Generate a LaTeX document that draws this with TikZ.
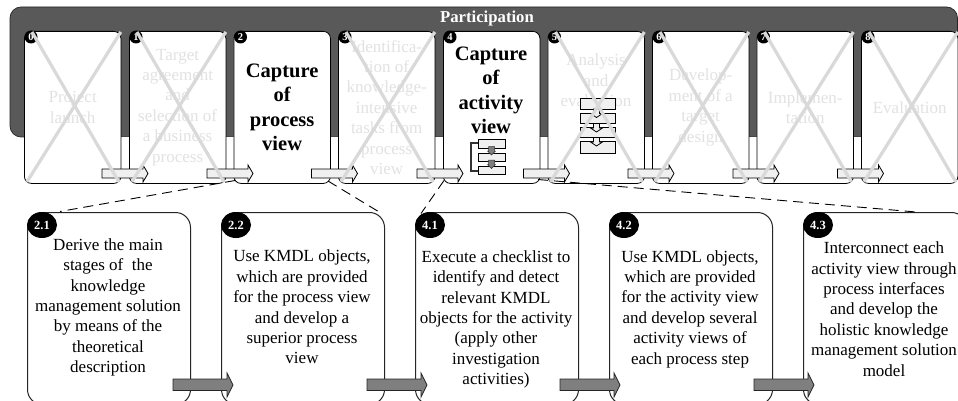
\documentclass[tikz,border=0pt]{standalone}
\usepackage{fontspec}
\setmainfont{Liberation Serif}
\usetikzlibrary{shapes.geometric}
\definecolor{band}{HTML}{595959}
\definecolor{ghost}{HTML}{E2E2E2}
\definecolor{crossc}{HTML}{D9D9D9}
\definecolor{lightf}{HTML}{F0F0F0}
\definecolor{midf}{HTML}{7F7F7F}
\tikzset{
  cardbox/.style={draw=black,line width=0.8pt,fill=white,rounded corners=7pt,minimum width=96.5pt,minimum height=152pt,inner sep=0pt,anchor=north west,align=center},
  ghosttext/.style={text=ghost,font=\fontsize{17}{20.4}\selectfont},
  boldtext/.style={text=black,font=\fontsize{20.5}{24.5}\selectfont\bfseries},
  numdot/.style={circle,fill=black,minimum size=13pt,inner sep=0pt,text=white,font=\fontsize{10.5}{11}\selectfont\bfseries},
  smallarrow/.style={draw=black,line width=0.8pt,fill=lightf},
  bigarrow/.style={draw=black!85,line width=0.8pt,fill=midf},
  crossline/.style={draw=crossc,line width=3.2pt},
  stepcard/.style={draw=black!85,line width=1pt,fill=white,rounded corners=15pt,minimum width=163pt,minimum height=192pt,inner sep=0pt,anchor=north west},
  stepbody/.style={align=center,text=black,font=\fontsize{17}{20.4}\selectfont},
  stepdot/.style={ellipse,fill=black,minimum width=30pt,minimum height=26pt,inner sep=0pt,text=white,font=\fontsize{12.5}{13}\selectfont\bfseries},
  linkline/.style={draw=black,line width=0.9pt,dash pattern=on 10pt off 6pt},
  iconbox/.style={draw=black,line width=0.9pt,fill=lightf,inner sep=0pt,anchor=north west},
  darkdown/.style={draw=black!80,fill=midf,line width=0.5pt},
  palearrow/.style={draw=black,fill=lightf,line width=0.8pt},
}
\newcommand{\downarrowshape}[5]{% style, cx, top, half body, half head
  \draw[#1] ({#2-#4},#3) -- ({#2+#4},#3) -- ({#2+#4},{#3+4.5}) -- ({#2+#5},{#3+4.5}) -- (#2,{#3+8.5}) -- ({#2-#5},{#3+4.5}) -- ({#2-#4},{#3+4.5}) -- cycle;}
\begin{document}
\begin{tikzpicture}[x=1pt,y=-1pt]
\clip (0,0) rectangle (958,401);
\fill[white] (0,0) rectangle (958,401);
% participation band
\draw[fill=band,draw=black!85,line width=0.7pt,rounded corners=11pt] (10,137) -- (10,7) -- (957.5,7) -- (957.5,137) -- cycle;
\fill[white] (24,137) rectangle (958,184);
\node[text=white,font=\fontsize{16.7}{18}\selectfont\bfseries] (part) at (487,18.5) {Participation};
% cards
\node[cardbox,ghosttext] (c0) at (24,31) {Project\\launch};
\node[cardbox,ghosttext] (c1) at (129,31) {Target\\agreement\\and\\selection of\\a business\\process};
\node[cardbox,boldtext] (c2) at (233.5,31) {Capture\\of\\process\\view};
\node[cardbox,ghosttext] (c3) at (338,31) {Identifica-\\tion of\\knowledge-\\intensive\\tasks from\\process\\view};
\node[cardbox] (c4) at (443,31) {};
\node[cardbox] (c5) at (547.5,31) {};
\node[cardbox,ghosttext] (c6) at (652,31) {Develop-\\ment of a\\target\\design};
\node[cardbox,ghosttext] (c7) at (756.5,31) {Implemen-\\tation};
\node[cardbox,ghosttext] (c8) at (861,31) {Evaluation};
\node[boldtext,align=center] (c4t) at (491,90.5) {Capture\\of\\activity\\view};
\node[ghosttext,align=center] (c5t) at (596,80.5) {Analysis\\and\\evaluation};
% icon in card 4
\draw[draw=black!80,line width=2pt] (478,143) -- (471,143) -- (471,171) -- (478,171);
\node[iconbox,minimum width=27pt,minimum height=8pt] (a1) at (478,139.5) {};
\node[iconbox,minimum width=27pt,minimum height=8pt] (a2) at (478,153) {};
\node[iconbox,minimum width=27pt,minimum height=8pt] (a3) at (478,166) {};
\downarrowshape{darkdown}{491.5}{146.5}{3}{4}
\downarrowshape{darkdown}{491.5}{160}{3}{4}
% icon in card 5
\node[iconbox,minimum width=35pt,minimum height=11pt] (b1) at (579.5,98.5) {};
\node[iconbox,minimum width=35pt,minimum height=10.5pt] (b2) at (579.5,113) {};
\node[iconbox,minimum width=35pt,minimum height=10pt] (b3) at (579.5,127) {};
\node[iconbox,minimum width=35pt,minimum height=11.5pt] (b4) at (579.5,141.5) {};
\downarrowshape{palearrow}{596.5}{109}{3}{6}
\downarrowshape{palearrow}{596.5}{123.5}{3}{6}
\downarrowshape{palearrow}{596.5}{137.5}{3}{6}
% dots
\foreach \n/\c/\t in {d0/c0/0,d1/c1/1,d2/c2/2,d3/c3/3,d4/c4/4,d5/c5/5,d6/c6/6,d7/c7/7,d8/c8/8}
  \node[numdot] (\n) at ([xshift=7pt,yshift=-6pt]\c.north west) {\t};
% small arrows
\foreach \x in {102,207,311.5,417,523.5,628,733,837.5}
  \draw[smallarrow] (\x,169) -- ({\x+41},169) -- ({\x+41},165) -- ({\x+46},173.5) -- ({\x+41},182) -- ({\x+41},178) -- (\x,178) -- cycle;
% crosses
\foreach \c in {c0,c1,c3,c5,c6,c7,c8}{
  \draw[crossline] ([xshift=3pt,yshift=2pt]\c.south west) -- ([xshift=-0.5pt,yshift=-1pt]\c.north east);
  \draw[crossline] ([xshift=8pt,yshift=-1pt]\c.north west) -- ([xshift=-2.5pt,yshift=2pt]\c.south east);
}
% lower cards
\node[stepcard] (k1) at (27,212) {};
\node[stepcard] (k2) at (221,212) {};
\node[stepcard] (k3) at (415,212) {};
\node[stepcard] (k4) at (609,212) {};
\node[stepcard] (k5) at (803,212) {};
\node[stepbody] (t1) at (108,307.5) {Derive the main\\stages of\ \ the\\knowledge\\management solution\\by means of the\\theoretical\\description};
\node[stepbody] (t2) at (302,307) {Use KMDL objects,\\which are provided\\for the process view\\and develop a\\superior process\\view};
\node[stepbody] (t3) at (496,319.5) {Execute a checklist to\\identify and detect\\relevant KMDL\\objects for the activity\\(apply other\\investigation\\activities)};
\node[stepbody] (t4) at (690,309) {Use KMDL objects,\\which are provided\\for the activity view\\and develop several\\activity views of\\each process step};
\node[stepbody] (t5) at (884,309) {Interconnect each\\activity view through\\process interfaces\\and develop the\\holistic knowledge\\management solution\\model};
\foreach \n/\k/\t in {e1/k1/2.1,e2/k2/2.2,e3/k3/4.1,e4/k4/4.2,e5/k5/4.3}
  \node[stepdot] (\n) at ([xshift=15pt,yshift=-13pt]\k.north west) {\t};
\foreach \x in {173,367,560,754}
  \draw[bigarrow] (\x,379) -- ({\x+54},379) -- ({\x+54},373) -- ({\x+60},385) -- ({\x+54},397) -- ({\x+54},390.5) -- (\x,390.5) -- cycle;
% dashed links
\coordinate (from21) at (235,180.5);
\coordinate (from22) at (328,181);
\coordinate (from41) at (444,180.5);
\coordinate (from43) at (538,179.5);
\coordinate (to21) at (60,211.5);
\coordinate (to22) at (380,212.5);
\coordinate (to41) at (421,213.5);
\coordinate (to43) at (916,212);
\draw[linkline] (from21) -- (to21);
\draw[linkline] (from22) -- (to22);
\draw[linkline] (from41) -- (to41);
\draw[linkline] (from43) -- (to43);
\end{tikzpicture}
\end{document}
